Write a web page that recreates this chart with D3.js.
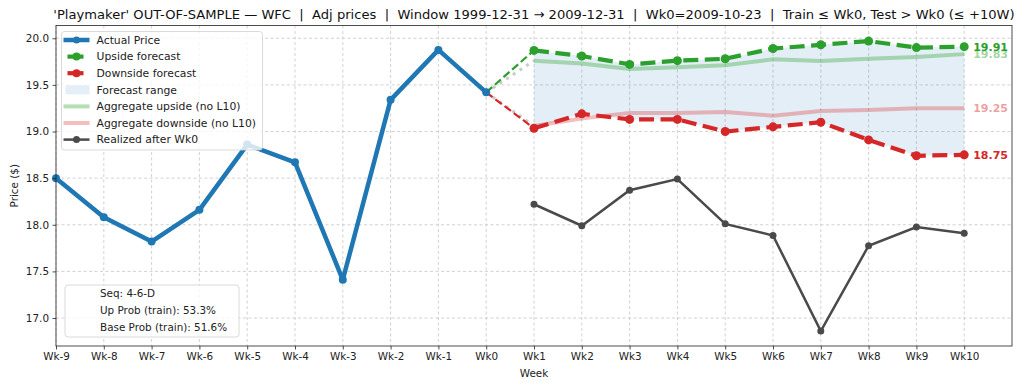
<!DOCTYPE html>
<html>
<head>
<meta charset="utf-8">
<script src="https://cdn.jsdelivr.net/npm/d3@7"></script>
<style>
  body { margin: 0; background: #fff; }
  svg { font-family: "DejaVu Sans", sans-serif; }
</style>
</head>
<body>
<svg id="chart"></svg>
<script>
// weeks before / after Wk0
const histWeeks = [-9, -8, -7, -6, -5, -4, -3, -2, -1, 0];
const fcWeeks = [1, 2, 3, 4, 5, 6, 7, 8, 9, 10];
const tickWeeks = [-9, -8, -7, -6, -5, -4, -3, -2, -1, 0, 1, 2, 3, 4, 5, 6, 7, 8, 9, 10];
const yTicks = [17.0, 17.5, 18.0, 18.5, 19.0, 19.5, 20.0];

// series values
const actualPrice = [18.50, 18.08, 17.82, 18.16, 18.86, 18.67, 17.41, 19.34, 19.875, 19.42];
const upside = [19.87, 19.81, 19.72, 19.76, 19.78, 19.89, 19.93, 19.97, 19.90, 19.91];
const downside = [19.035, 19.19, 19.13, 19.13, 19.00, 19.05, 19.10, 18.91, 18.74, 18.75];
const aggUp = [19.76, 19.73, 19.67, 19.69, 19.71, 19.775, 19.757, 19.78, 19.80, 19.83];
const aggDown = [19.06, 19.14, 19.20, 19.20, 19.21, 19.17, 19.22, 19.23, 19.25, 19.25];
const realized = [18.22, 17.99, 18.37, 18.49, 18.01, 17.885, 16.86, 17.775, 17.975, 17.91];

const infoLines = ["Seq: 4-6-D", "Up Prob (train): 53.3%", "Base Prob (train): 51.6%"];
const titleText = "'Playmaker' OUT-OF-SAMPLE \u2014 WFC  |  Adj prices  |  Window 1999-12-31 \u2192 2009-12-31  |  Wk0=2009-10-23  |  Train \u2264 Wk0, Test > Wk0 (\u2264 +10W)";

const width = 1024, height = 388;
const margin = { top: 25.5, right: 12, bottom: 42, left: 56 };

const BLUE = "#1f77b4", GREEN = "#2ca02c", RED = "#d62728", GRAY = "#4a4a4a";

const svg = d3.select("#chart")
    .attr("width", width)
    .attr("height", height);

const x = d3.scaleLinear()
    .domain([-9, 11])
    .range([margin.left, width - margin.right]);

const y = d3.scaleLinear()
    .domain([16.70, 20.137])
    .range([height - margin.bottom, margin.top]);

// grid
const grid = svg.append("g").attr("class", "grid")
    .attr("stroke", "#b0b0b0").attr("stroke-width", 0.8)
    .attr("stroke-dasharray", "3,2.5").attr("opacity", 0.7);
grid.selectAll(".gx").data(tickWeeks).enter().append("line")
    .attr("x1", d => x(d)).attr("x2", d => x(d))
    .attr("y1", margin.top).attr("y2", height - margin.bottom);
grid.selectAll(".gy").data(yTicks).enter().append("line")
    .attr("x1", margin.left).attr("x2", width - margin.right)
    .attr("y1", d => y(d)).attr("y2", d => y(d));

const line = d3.line().x(d => x(d[0])).y(d => y(d[1]));
const zip = (ws, vs) => ws.map((w, i) => [w, vs[i]]);

// realized after Wk0
svg.append("path")
    .datum(zip(fcWeeks, realized))
    .attr("d", line).attr("fill", "none")
    .attr("stroke", GRAY).attr("stroke-width", 2.5);
svg.selectAll(".real-dot").data(zip(fcWeeks, realized)).enter().append("circle")
    .attr("cx", d => x(d[0])).attr("cy", d => y(d[1])).attr("r", 3.5).attr("fill", GRAY);

// forecast range
const area = d3.area()
    .x((d, i) => x(fcWeeks[i]))
    .y0((d, i) => y(downside[i]))
    .y1((d, i) => y(upside[i]));
svg.append("path")
    .datum(fcWeeks)
    .attr("d", area)
    .attr("fill", BLUE).attr("fill-opacity", 0.12);

// aggregate lines
svg.append("path")
    .datum(zip(fcWeeks, aggUp))
    .attr("d", line).attr("fill", "none")
    .attr("stroke", GREEN).attr("stroke-opacity", 0.35).attr("stroke-width", 4);
svg.append("path")
    .datum(zip(fcWeeks, aggDown))
    .attr("d", line).attr("fill", "none")
    .attr("stroke", RED).attr("stroke-opacity", 0.3).attr("stroke-width", 4);

// grey dotted connectors from Wk0 to aggregates
const last = actualPrice[actualPrice.length - 1];
[aggUp[0], aggDown[0]].forEach(v => {
    svg.append("path")
        .datum([[0, last], [1, v]])
        .attr("d", line).attr("fill", "none")
        .attr("stroke", "#bdbdbd").attr("stroke-opacity", 0.8)
        .attr("stroke-width", 3).attr("stroke-dasharray", "3,5");
});

// forecasts
function drawForecast(vals, color) {
    svg.append("path")
        .datum([[0, last], [1, vals[0]]])
        .attr("d", line).attr("fill", "none")
        .attr("stroke", color).attr("stroke-width", 2.2)
        .attr("stroke-dasharray", "8,3.5");
    svg.append("path")
        .datum(zip(fcWeeks, vals))
        .attr("d", line).attr("fill", "none")
        .attr("stroke", color).attr("stroke-width", 4.2)
        .attr("stroke-dasharray", "15,6.5");
    svg.append("g").selectAll("circle").data(zip(fcWeeks, vals)).enter().append("circle")
        .attr("cx", d => x(d[0])).attr("cy", d => y(d[1])).attr("r", 4.5).attr("fill", color);
}
drawForecast(upside, GREEN);
drawForecast(downside, RED);

// actual price
svg.append("path")
    .datum(zip(histWeeks, actualPrice))
    .attr("d", line).attr("fill", "none")
    .attr("stroke", BLUE).attr("stroke-width", 4.5).attr("stroke-linejoin", "round");
svg.selectAll(".act-dot").data(zip(histWeeks, actualPrice)).enter().append("circle")
    .attr("cx", d => x(d[0])).attr("cy", d => y(d[1])).attr("r", 4).attr("fill", BLUE);

// end labels
const endLabels = [
    { v: upside[9], color: GREEN, op: 1 },
    { v: aggUp[9], color: GREEN, op: 0.45 },
    { v: aggDown[9], color: RED, op: 0.45 },
    { v: downside[9], color: RED, op: 1 }
];
svg.selectAll(".end-label").data(endLabels).enter().append("text")
    .attr("x", x(10) + 9).attr("y", d => y(d.v)).attr("dy", "0.35em")
    .attr("fill", d => d.color).attr("fill-opacity", d => d.op)
    .style("font-size", "11px").style("font-weight", "bold")
    .text(d => d.v.toFixed(2));

// axes
const xAxis = svg.append("g")
    .attr("transform", `translate(0, ${height - margin.bottom})`)
    .call(d3.axisBottom(x).tickValues(tickWeeks).tickFormat(d => "Wk" + d).tickSize(3.5).tickPadding(3.5));
const yAxis = svg.append("g")
    .attr("transform", `translate(${margin.left}, 0)`)
    .call(d3.axisLeft(y).tickValues(yTicks).tickFormat(d3.format(".1f")).tickSize(3.5).tickPadding(3.5));
[xAxis, yAxis].forEach(g => {
    g.select(".domain").remove();
    g.selectAll("text").style("font-size", "10.4px").attr("fill", "#222")
        .style("font-family", "DejaVu Sans, sans-serif");
    g.selectAll("line").attr("stroke", "#222").attr("stroke-width", 0.8);
});

// frame
svg.append("rect")
    .attr("x", margin.left).attr("y", margin.top)
    .attr("width", width - margin.right - margin.left)
    .attr("height", height - margin.bottom - margin.top)
    .attr("fill", "none").attr("stroke", "#222").attr("stroke-width", 0.8);

// axis titles
svg.append("text")
    .attr("x", (margin.left + width - margin.right) / 2).attr("y", 377)
    .attr("text-anchor", "middle").style("font-size", "10.4px").attr("fill", "#222")
    .text("Week");
svg.append("text")
    .attr("transform", `translate(18, ${(margin.top + height - margin.bottom) / 2}) rotate(-90)`)
    .attr("text-anchor", "middle").style("font-size", "10.4px").attr("fill", "#222")
    .text("Price ($)");

// title (keep the double spaces round the bars)
svg.append("text")
    .attr("x", (margin.left + width - margin.right) / 2).attr("y", 19)
    .attr("text-anchor", "middle").style("font-size", "13.1px").attr("fill", "#111")
    .style("white-space", "pre")
    .text(titleText);

// legend
const legend = svg.append("g").attr("transform", "translate(61.5, 31.5)");
legend.append("rect")
    .attr("width", 201).attr("height", 118.5).attr("rx", 3)
    .attr("fill", "#fff").attr("fill-opacity", 0.8)
    .attr("stroke", "#d0d0d0").attr("stroke-width", 0.8);
const legendItems = [
    { label: "Actual Price", type: "line", color: BLUE, w: 4.5, op: 1, dot: 3.5 },
    { label: "Upside forecast", type: "dash", color: GREEN, w: 4.2, op: 1, dot: 4 },
    { label: "Downside forecast", type: "dash", color: RED, w: 4.2, op: 1, dot: 4 },
    { label: "Forecast range", type: "patch", color: BLUE, op: 0.12 },
    { label: "Aggregate upside (no L10)", type: "line", color: GREEN, w: 4, op: 0.35 },
    { label: "Aggregate downside (no L10)", type: "line", color: RED, w: 4, op: 0.3 },
    { label: "Realized after Wk0", type: "line", color: GRAY, w: 2.5, op: 1, dot: 3.5 }
];
const rows = legend.selectAll(".item").data(legendItems).enter().append("g")
    .attr("transform", (d, i) => `translate(0, ${8.5 + i * 16.6})`);
rows.each(function (d) {
    const g = d3.select(this);
    if (d.type === "patch") {
        g.append("rect").attr("x", 4).attr("y", -4.5).attr("width", 24).attr("height", 9)
            .attr("fill", d.color).attr("fill-opacity", d.op);
    } else {
        const x1 = d.type === "dash" ? 6 : 2, x2 = d.type === "dash" ? 22 : 28;
        g.append("line").attr("x1", x1).attr("x2", x2).attr("y1", 0).attr("y2", 0)
            .attr("stroke", d.color).attr("stroke-opacity", d.op).attr("stroke-width", d.w);
        if (d.dot) g.append("circle").attr("cx", 15).attr("cy", 0).attr("r", d.dot).attr("fill", d.color);
    }
    g.append("text").attr("x", 35).attr("y", 0).attr("dy", "0.35em")
        .style("font-size", "10.8px").attr("fill", "#222").text(d.label);
});

// info box
const info = svg.append("g").attr("transform", "translate(65, 285)");
info.append("rect")
    .attr("width", 174).attr("height", 52).attr("rx", 3)
    .attr("fill", "#fff").attr("fill-opacity", 0.8)
    .attr("stroke", "#d0d0d0").attr("stroke-width", 0.8);
info.selectAll("text").data(infoLines).enter().append("text")
    .attr("x", 35).attr("y", (d, i) => 8.5 + i * 16.7).attr("dy", "0.35em")
    .style("font-size", "10.4px").attr("fill", "#222").text(d => d);
</script>
</body>
</html>
